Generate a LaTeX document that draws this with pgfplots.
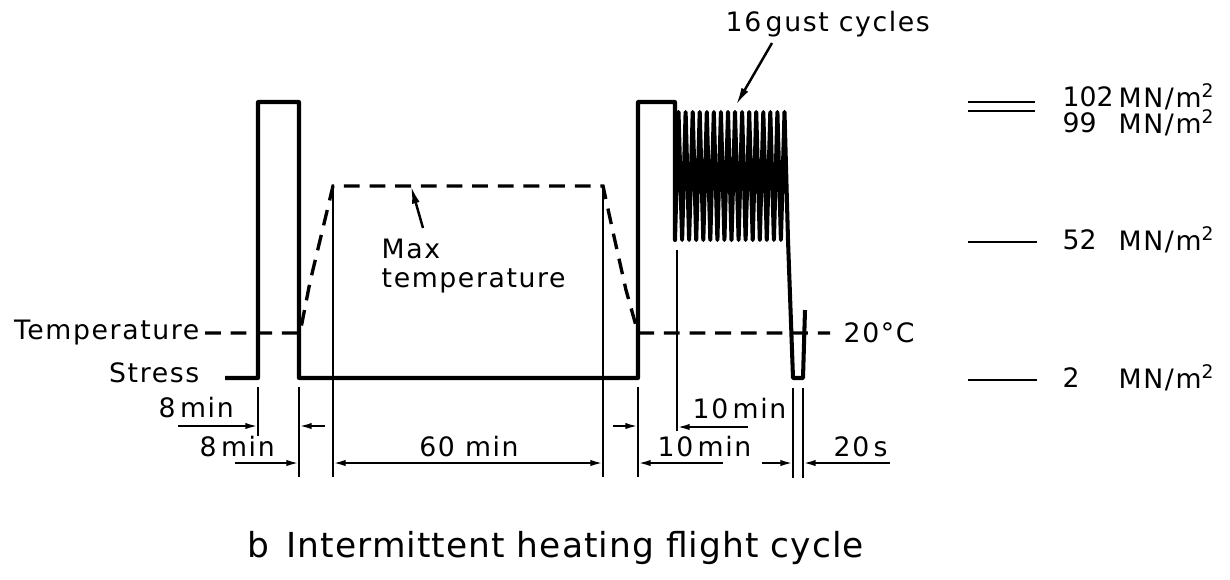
\documentclass[border=0pt]{standalone}
\usepackage{pgfplots}
\pgfplotsset{compat=1.18}
\usepackage{fontspec}
\setmainfont{DejaVu Sans}
\newfontfamily\lblfont[LetterSpace=6]{DejaVu Sans}
\newfontfamily\capfont[LetterSpace=3]{DejaVu Sans}
\usetikzlibrary{arrows.meta}
\begin{document}
\begin{tikzpicture}[
  lbl/.style={inner sep=0pt,font=\lblfont\fontsize{7.6}{9}\selectfont},
  num/.style={inner sep=0pt,font=\fontsize{7.6}{9}\selectfont},
  thin/.style={line width=0.6pt},
  dim/.style={line width=0.6pt,-{Latex[length=3.6pt,width=1.8pt]}},
]
\begin{axis}[width=12.3cm,height=5.79cm,scale only axis,
  xmin=0,xmax=1230,ymin=0,ymax=579,y dir=reverse,hide axis,clip=false]
\path (axis cs:0,0) rectangle (axis cs:1230,579);
% stress history
\addplot[black,line width=1.15pt,line join=round] coordinates {
 (225,378) (258,378) (258,102) (299,102) (299,378) (638,378) (638,102) (675,102) (675,240)
 (678.5,112) (682.1,240) (685.6,112) (689.1,240) (692.7,112) (696.2,240) (699.7,112) (703.3,240)
 (706.8,112) (710.3,240) (713.8,112) (717.4,240) (720.9,112) (724.4,240) (728.0,112) (731.5,240)
 (735.0,112) (738.6,240) (742.1,112) (745.6,240) (749.2,112) (752.7,240) (756.2,112) (759.8,240)
 (763.3,112) (766.8,240) (770.3,112) (773.9,240) (777.4,112) (780.9,240) (784.5,112) (788,240)
 (793,378) (803,378) (805,310)};
% temperature history
\addplot[black,line width=0.95pt,dash pattern=on 4.5pt off 2.8pt] coordinates {
 (205,333) (300,333) (310,282) (322,232) (333,186) (603,186) (613,232) (626,290) (638,333) (830,333)};
% extension lines
\addplot[black,thin] coordinates {(258,387) (258,436)};
\addplot[black,thin] coordinates {(299,387) (299,477)};
\addplot[black,thin] coordinates {(333,190) (333,477)};
\addplot[black,thin] coordinates {(603,190) (603,477)};
\addplot[black,thin] coordinates {(638,387) (638,477)};
\addplot[black,thin] coordinates {(677,250) (677,431)};
\addplot[black,thin] coordinates {(793,388) (793,478)};
\addplot[black,thin] coordinates {(803,388) (803,478)};
% level markers on the right
\addplot[black,line width=0.7pt] coordinates {(968,102) (1035,102)};
\addplot[black,line width=0.7pt] coordinates {(968,111) (1035,111)};
\addplot[black,line width=0.7pt] coordinates {(968,242) (1037,242)};
\addplot[black,line width=0.7pt] coordinates {(968,380) (1037,380)};
% dimension arrows
\draw[dim] (axis cs:178,426) -- (axis cs:258,426);
\draw[dim] (axis cs:325,426) -- (axis cs:299,426);
\draw[dim] (axis cs:613,426) -- (axis cs:638,426);
\draw[dim] (axis cs:748,427) -- (axis cs:677,427);
\draw[dim] (axis cs:235,463) -- (axis cs:299,463);
\draw[line width=0.6pt,{Latex[length=3.6pt,width=1.8pt]}-{Latex[length=3.6pt,width=1.8pt]}] (axis cs:333,463) -- (axis cs:603,463);
\draw[dim] (axis cs:723,463) -- (axis cs:638,463);
\draw[dim] (axis cs:762,463) -- (axis cs:793,463);
\draw[dim] (axis cs:890,463) -- (axis cs:803,463);
% pointer arrows
\draw[line width=0.7pt,-{Latex[length=5pt,width=2.2pt]}] (axis cs:423,228) -- (axis cs:411,186);
\draw[line width=0.7pt,-{Latex[length=5pt,width=2.2pt]}] (axis cs:772,43) -- (axis cs:736,105);
% labels
\node[lbl,anchor=east] at (axis cs:200,333) {Temperature};
\node[lbl,anchor=east] at (axis cs:200,373) {Stress};
\node[lbl,anchor=west] at (axis cs:158,408) {8\,min};
\node[lbl,anchor=west] at (axis cs:199,447) {8\,min};
\node[lbl,anchor=center] at (axis cs:469,447) {60 min};
\node[lbl,anchor=west] at (axis cs:692,409) {10\,min};
\node[lbl,anchor=west] at (axis cs:657,447) {10\,min};
\node[lbl,anchor=west] at (axis cs:833,447) {20\,s};
\node[lbl,anchor=west] at (axis cs:843,333) {20°C};
\node[lbl,anchor=west] at (axis cs:381,249) {Max};
\node[lbl,anchor=west] at (axis cs:381,281) {temperature};
\node[lbl,anchor=west] at (axis cs:725,24) {16\,gust cycles};
\node[num,anchor=west] at (axis cs:1062,97) {102};
\node[lbl,anchor=west] at (axis cs:1118,97) {MN/m\textsuperscript{2}};
\node[num,anchor=west] at (axis cs:1062,123) {99};
\node[lbl,anchor=west] at (axis cs:1118,123) {MN/m\textsuperscript{2}};
\node[num,anchor=west] at (axis cs:1062,240) {52};
\node[lbl,anchor=west] at (axis cs:1118,240) {MN/m\textsuperscript{2}};
\node[num,anchor=west] at (axis cs:1062,378) {2};
\node[lbl,anchor=west] at (axis cs:1118,378) {MN/m\textsuperscript{2}};
\node[inner sep=0pt,anchor=base west,font=\capfont\fontsize{9.8}{12}\selectfont] at (axis cs:247,557) {b};
\node[inner sep=0pt,anchor=base west,font=\capfont\fontsize{9.8}{12}\selectfont] at (axis cs:286,557) {Intermittent heating flight cycle};
\end{axis}
\end{tikzpicture}
\end{document}
